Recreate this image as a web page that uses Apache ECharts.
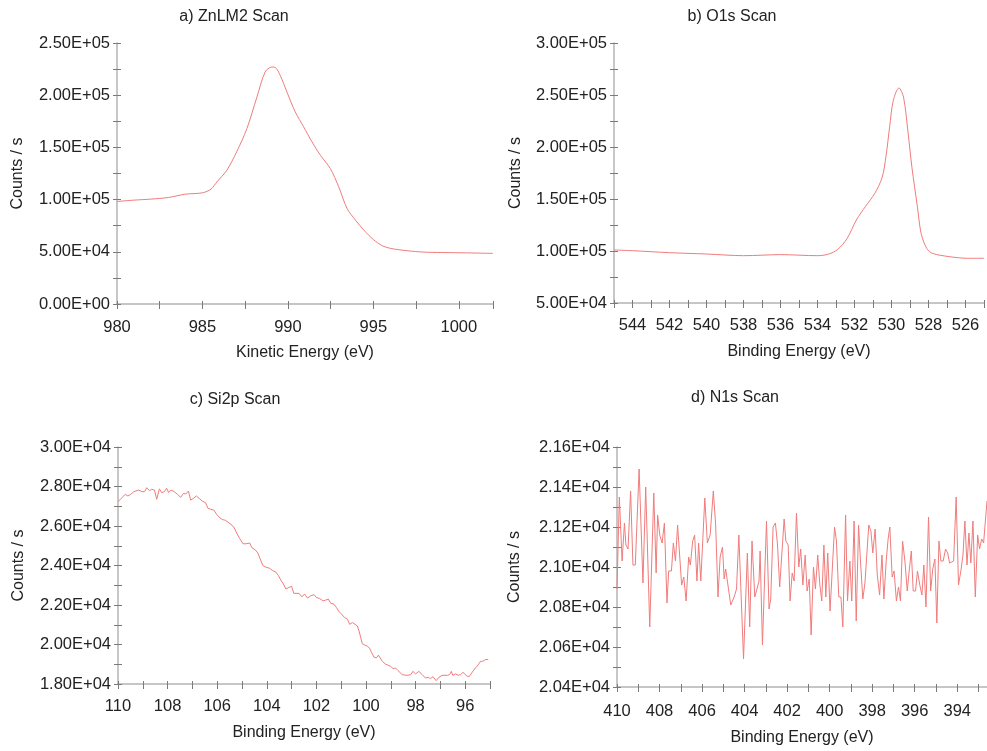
<!DOCTYPE html>
<html>
<head>
<meta charset="utf-8">
<title>XPS Scans</title>
<script src="https://cdn.jsdelivr.net/npm/echarts@6/dist/echarts.min.js"></script>
<style>
  html, body { margin: 0; padding: 0; background: #ffffff; }
  #chart { width: 987px; height: 751px; }
</style>
</head>
<body>
<div id="chart"></div>
<script>
// ---- a) ZnLM2 scan (kinetic energy, eV / counts per second) ----
const znEnergy = [980, 981, 982, 983, 984, 985, 985.5, 985.85, 986.43, 987.0, 987.6, 988.19, 988.67, 989.06, 989.26, 989.55, 989.98, 990.43, 990.92, 991.41, 991.9, 992.48, 992.97, 993.46, 993.95, 994.44, 994.99, 995.52, 996.0, 996.98, 997.96, 999, 1000, 1001, 1002];
const znCounts = [98200, 99500, 100500, 102000, 105200, 106500, 110000, 117000, 128200, 145700, 168000, 198400, 222300, 227000, 226600, 219000, 201500, 184000, 169700, 155300, 142500, 129800, 112300, 91500, 80400, 70800, 61900, 55800, 53300, 51000, 49700, 49300, 49100, 48800, 48500];

// ---- b) O1s scan (binding energy, eV) ----
const oEnergy = [545, 544, 542, 540, 538, 536, 534, 533.4, 532.9, 532.4, 531.9, 531.4, 530.9, 530.5, 530.3, 530.1, 529.9, 529.6, 529.35, 529.1, 528.9, 528.6, 528.4, 528.1, 527.8, 526.85, 525.9, 525];
const oCounts = [101000, 100300, 98400, 97100, 95500, 96500, 95500, 97000, 101600, 112000, 129800, 143000, 155500, 171000, 190700, 219500, 245000, 256800, 248000, 213000, 181000, 142600, 117000, 102600, 97800, 94500, 93000, 93000];

// ---- c) Si2p scan ----
const siEnergy = [110.0, 109.87, 109.71, 109.6, 109.49, 109.36, 109.17, 109.04, 108.93, 108.84, 108.73, 108.64, 108.53, 108.44, 108.33, 108.24, 108.13, 108.04, 107.96, 107.87, 107.73, 107.6, 107.47, 107.36, 107.27, 107.16, 107.07, 106.96, 106.84, 106.73, 106.6, 106.47, 106.37, 106.27, 106.13, 106.03, 105.93, 105.8, 105.67, 105.53, 105.4, 105.31, 105.2, 105.09, 104.96, 104.83, 104.69, 104.6, 104.47, 104.36, 104.27, 104.16, 104.03, 103.89, 103.76, 103.63, 103.53, 103.44, 103.33, 103.23, 103.11, 103.0, 102.91, 102.83, 102.7, 102.59, 102.47, 102.36, 102.23, 102.09, 102.0, 101.87, 101.73, 101.62, 101.52, 101.42, 101.29, 101.19, 101.09, 100.98, 100.86, 100.75, 100.66, 100.55, 100.44, 100.35, 100.28, 100.21, 100.15, 100.05, 99.95, 99.85, 99.77, 99.68, 99.58, 99.5, 99.44, 99.34, 99.23, 99.11, 99.01, 98.91, 98.81, 98.71, 98.63, 98.54, 98.34, 98.2, 98.11, 98.0, 97.87, 97.73, 97.6, 97.49, 97.4, 97.3, 97.17, 97.06, 96.93, 96.72, 96.63, 96.56, 96.5, 96.39, 96.28, 96.19, 96.09, 96.01, 95.92, 95.83, 95.72, 95.61, 95.52, 95.45, 95.38, 95.29, 95.18, 95.07];
const siCounts = [27230, 27400, 27600, 27520, 27600, 27740, 27820, 27740, 27740, 27940, 27790, 27860, 27820, 27350, 27880, 27690, 27740, 27910, 27700, 27820, 27740, 27600, 27450, 27650, 27620, 27770, 27310, 27400, 27520, 27400, 27260, 27180, 26890, 26850, 26800, 26600, 26460, 26330, 26290, 26160, 26040, 25900, 25610, 25360, 25100, 25100, 25140, 24900, 24800, 24630, 24340, 24000, 23910, 23860, 23740, 23660, 23490, 23270, 23060, 22810, 22890, 22950, 22590, 22640, 22590, 22420, 22550, 22350, 22470, 22520, 22380, 22330, 22210, 22250, 22300, 22080, 22040, 21870, 21670, 21530, 21360, 21280, 21020, 21110, 21020, 20940, 20680, 20340, 20040, 19970, 19920, 19800, 19580, 19360, 19320, 19460, 19530, 19150, 19020, 18950, 18900, 18780, 18810, 18680, 18780, 18470, 18440, 18470, 18640, 18510, 18640, 18470, 18300, 18340, 18270, 18370, 18170, 18340, 18440, 18440, 18470, 18640, 18440, 18510, 18440, 18470, 18590, 18510, 18390, 18390, 18590, 18780, 18900, 19020, 19150, 19150, 19240, 19240];

// ---- d) N1s scan ----
const nEnergy = [410.0, 409.89, 409.76, 409.65, 409.58, 409.48, 409.36, 409.25, 409.14, 408.96, 408.78, 408.65, 408.46, 408.27, 408.16, 408.09, 407.99, 407.88, 407.77, 407.65, 407.57, 407.44, 407.35, 407.25, 407.15, 406.96, 406.86, 406.75, 406.63, 406.55, 406.44, 406.35, 406.24, 406.16, 406.06, 405.87, 405.75, 405.62, 405.47, 405.36, 405.25, 405.15, 405.04, 404.96, 404.89, 404.81, 404.65, 404.49, 404.38, 404.27, 404.18, 404.05, 403.87, 403.76, 403.65, 403.52, 403.43, 403.32, 403.27, 403.16, 402.97, 402.85, 402.77, 402.66, 402.55, 402.45, 402.35, 402.27, 402.14, 402.06, 401.95, 401.86, 401.76, 401.67, 401.56, 401.45, 401.36, 401.26, 401.15, 401.06, 400.96, 400.87, 400.76, 400.67, 400.56, 400.46, 400.37, 400.27, 400.18, 400.09, 399.98, 399.88, 399.77, 399.68, 399.57, 399.47, 399.38, 399.25, 399.16, 399.05, 398.96, 398.85, 398.75, 398.64, 398.55, 398.44, 398.34, 398.25, 398.16, 398.06, 397.97, 397.86, 397.76, 397.65, 397.54, 397.45, 397.34, 397.25, 397.17, 397.06, 396.97, 396.86, 396.76, 396.67, 396.57, 396.46, 396.35, 396.26, 396.16, 396.07, 395.96, 395.87, 395.76, 395.66, 395.57, 395.47, 395.35, 395.25, 395.15, 395.05, 394.96, 394.86, 394.77, 394.66, 394.55, 394.45, 394.36, 394.27, 394.17, 394.05, 393.94, 393.83, 393.73, 393.64, 393.54, 393.45, 393.36, 393.26, 393.15, 393.04, 392.95, 392.85, 392.76, 392.6];
const nCounts = [20890, 21350, 21030, 21220, 21110, 21090, 21380, 21010, 21010, 21490, 20920, 21400, 20700, 21370, 20970, 21260, 21160, 21120, 21220, 20820, 20980, 20980, 21120, 21030, 21210, 20910, 20950, 20830, 21050, 21010, 21130, 21160, 20930, 21120, 20930, 21345, 21120, 21160, 21380, 21210, 20850, 21050, 21100, 20940, 20990, 20930, 20810, 20850, 20890, 21160, 21160, 20540, 21070, 20700, 21130, 20850, 20840, 20930, 21080, 20610, 21230, 20790, 20840, 21200, 21220, 21110, 20900, 20910, 21240, 21130, 21110, 20830, 20970, 20930, 21270, 21000, 21090, 20910, 21060, 20880, 20940, 20660, 21000, 20890, 21060, 20910, 20830, 21110, 20850, 21070, 20780, 20980, 21200, 21130, 20850, 20850, 20700, 21260, 20830, 21030, 20830, 21230, 20730, 21210, 21030, 20840, 20920, 20920, 21210, 21180, 21070, 21190, 20960, 20860, 21060, 20840, 21030, 21140, 21200, 20950, 20980, 20830, 20900, 20830, 21130, 21030, 20880, 20980, 21080, 20880, 20880, 20980, 20910, 20860, 21010, 20800, 21250, 20880, 20990, 21040, 20720, 21130, 21030, 21030, 21090, 21070, 21020, 21030, 21030, 21350, 20910, 20980, 21060, 21230, 21010, 21170, 21020, 21230, 20850, 21160, 21090, 21140, 21120, 21330];

// ---- panel titles, axis names and tick positions ----
const panelTitles = ['a) ZnLM2 Scan', 'b) O1s Scan', 'c) Si2p Scan', 'd) N1s Scan'];
const xNames = ['Kinetic Energy (eV)', 'Binding Energy (eV)', 'Binding Energy (eV)', 'Binding Energy (eV)'];
const yName = 'Counts / s';
const nTickValues = [393, 394, 395, 396, 397, 398, 399, 400, 401, 402, 403, 404, 405, 406, 407, 408, 409, 410];
const nLabelValues = [394, 396, 398, 400, 402, 404, 406, 408, 410];

const FONT = '"Liberation Sans", Arial, Helvetica, sans-serif';
const TEXT = '#222222';
const LINE = '#f07c7c';

function sci(v) {
  if (Math.abs(v) < 1e-9) return '0.00E+00';
  let e = Math.floor(Math.log10(Math.abs(v)) + 1e-9);
  let m = v / Math.pow(10, e);
  if (Math.abs(m) >= 9.995) { m /= 10; e += 1; }
  return m.toFixed(2) + 'E' + (e < 0 ? '-' : '+') + String(Math.abs(e)).padStart(2, '0');
}
function onStep(v, step) {
  const r = v / step;
  return Math.abs(r - Math.round(r)) < 1e-6;
}
function zip(xs, ys) { return xs.map((x, i) => [x, ys[i]]); }

// layout of each panel's plotting rectangle
const panels = [
  { grid: { left: 117, top: 43, width: 376, height: 261 }, x: [980, 1002, 2.5, 5, false], y: [0, 250000, 25000, 50000],
    xMargin: 15, xGap: 41, yGap: 91, title: [234, 17], data: zip(znEnergy, znCounts), smooth: 0.3 },
  { grid: { left: 614, top: 43, width: 372, height: 260 }, x: [525, 545, 1, 2, true], y: [50000, 300000, 25000, 50000],
    xMargin: 14, xGap: 41, yGap: 90, title: [732, 17], data: zip(oEnergy, oCounts), smooth: 0.3 },
  { grid: { left: 118, top: 447, width: 372, height: 237 }, x: [95, 110, 1, 2, true], y: [18000, 30000, 1000, 2000],
    xMargin: 14, xGap: 41, yGap: 91, title: [235, 400], data: zip(siEnergy, siCounts), smooth: false },
  { grid: { left: 617, top: 447, width: 370, height: 240 }, x: [392.6, 410, null, 2, true], y: [20400, 21600, 100, 200],
    xMargin: 16, xGap: 43, yGap: 94, title: [735, 398], data: zip(nEnergy, nCounts), smooth: false,
    ticks: nTickValues, labels: nLabelValues }
];

const grids = [], xAxes = [], yAxes = [], series = [], graphics = [];
panels.forEach((p, i) => {
  grids.push(Object.assign({ containLabel: false }, p.grid));
  const [xmin, xmax, xstep, xlab, inv] = p.x;
  const [ymin, ymax, ystep, ylab] = p.y;
  const axisLine = { show: true, lineStyle: { color: '#b4b4b4', width: 1.5 } };
  const tickStyle = { color: '#7a7a7a', width: 1 };

  const xBase = { type: 'value', gridIndex: i, position: 'bottom', min: xmin, max: xmax, inverse: inv };
  if (xstep) xBase.interval = xstep;
  const xOut = { show: true, inside: false, length: 5, lineStyle: tickStyle };
  const xIn = { show: true, inside: true, length: 3, lineStyle: tickStyle };
  const xLabel = { margin: p.xMargin, fontSize: 16.5, color: TEXT, fontFamily: FONT,
    formatter: v => onStep(v, xlab) ? String(Math.round(v)) : '' };
  if (p.ticks) { xOut.customValues = p.ticks; xIn.customValues = p.ticks; xLabel.customValues = p.labels; }

  // main axes with labels and outward ticks
  xAxes.push(Object.assign({}, xBase, {
    name: xNames[i], nameLocation: 'middle', nameGap: p.xGap,
    nameTextStyle: { fontSize: 16, color: TEXT, fontFamily: FONT },
    axisLine, axisTick: xOut, axisLabel: xLabel, splitLine: { show: false }
  }));
  // overlay axis giving the inward half of each tick
  xAxes.push(Object.assign({}, xBase, {
    axisLine: { show: false }, axisLabel: { show: false }, splitLine: { show: false }, axisTick: xIn
  }));

  const yBase = { type: 'value', gridIndex: i, position: 'left', offset: 0, min: ymin, max: ymax, interval: ystep };
  yAxes.push(Object.assign({}, yBase, {
    name: yName, nameLocation: 'middle', nameGap: p.yGap,
    nameTextStyle: { fontSize: 16, color: TEXT, fontFamily: FONT },
    axisLine, axisTick: { show: true, inside: false, length: 4, lineStyle: tickStyle },
    axisLabel: { margin: 7, fontSize: 16.5, color: TEXT, fontFamily: FONT,
      formatter: v => onStep(v, ylab) ? sci(v) : '' },
    splitLine: { show: false }
  }));
  yAxes.push(Object.assign({}, yBase, {
    axisLine: { show: false }, axisLabel: { show: false }, splitLine: { show: false },
    axisTick: { show: true, inside: true, length: 4, lineStyle: tickStyle }
  }));

  series.push({
    type: 'line', name: panelTitles[i], xAxisIndex: 2 * i, yAxisIndex: 2 * i,
    data: p.data, showSymbol: false, smooth: p.smooth,
    lineStyle: { color: LINE, width: 1 }, emphasis: { disabled: true }
  });
  graphics.push({
    type: 'text', x: p.title[0], y: p.title[1],
    style: { text: panelTitles[i], fill: TEXT, fontSize: 16, fontFamily: FONT,
      align: 'center', verticalAlign: 'middle', textAlign: 'center', textVerticalAlign: 'middle' }
  });
});

const chart = echarts.init(document.getElementById('chart'), null, { renderer: 'canvas' });
chart.setOption({
  animation: false,
  backgroundColor: '#ffffff',
  grid: grids,
  xAxis: xAxes,
  yAxis: yAxes,
  series: series,
  graphic: graphics
});
</script>
</body>
</html>
